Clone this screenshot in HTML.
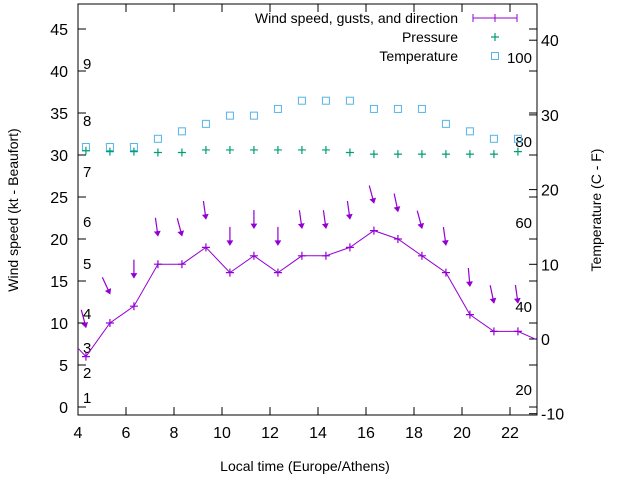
<!DOCTYPE html>
<html><head><meta charset="utf-8"><style>
html,body{margin:0;padding:0;background:#fff;}
svg{display:block;font-family:"Liberation Sans",sans-serif;}
</style></head><body>
<svg id="chart" width="640" height="480" viewBox="0 0 640 480"></svg>
<script>
const hours = [4.33,5.33,6.33,7.33,8.33,9.33,10.33,11.33,12.33,13.33,14.33,15.33,16.33,17.33,18.33,19.33,20.33,21.33,22.33];
const windSpeed = [6,10,12,17,17,19,16,18,16,18,18,19,21,20,18,16,11,9,9];
const gusts = [9.5,13.5,15.4,20.4,20.4,22.4,19.3,21.3,19.3,21.3,21.3,22.4,24.3,23.3,21.3,19.3,14.4,12.4,12.4];
const windDir = [-15,-25,0,-8,-15,-8,0,0,0,-8,-8,-8,-15,-12,-15,-8,-5,-12,-8];
const pressure = [30.5,30.4,30.4,30.3,30.3,30.6,30.6,30.6,30.6,30.6,30.6,30.3,30.1,30.1,30.1,30.1,30.1,30.1,30.4];
const temperature = [25.7,25.7,25.7,26.8,27.8,28.8,29.9,29.9,30.8,31.9,31.9,31.9,30.8,30.8,30.8,28.8,27.8,26.8,26.8];
const xTicks = [4,6,8,10,12,14,16,18,20,22];
const yTicks = [0,5,10,15,20,25,30,35,40,45];
const y2Ticks = [-10,0,10,20,30,40];
const beaufort = [[1,397],[2,372],[3,347],[4,313],[5,263],[6,221],[7,171],[8,120],[9,63]];
const fahr = [[100,57],[80,141],[60,222],[40,306],[20,389]];

const L=78,R=537,T=4,B=415;
const X=h=>L+(h-4)*24;
const Y=v=>407-v*8.4;
const Y2=v=>339-v*7.47;
const NS='http://www.w3.org/2000/svg';
const svg=document.getElementById('chart');
function mk(tag,attrs,parent){const e=document.createElementNS(NS,tag);for(const k in attrs)e.setAttribute(k,attrs[k]);(parent||svg).appendChild(e);return e;}
function txt(x,y,s,anchor,name,size){const t=mk('text',{x:x,y:y,'font-size':size||16,'text-anchor':anchor||'start',fill:'#000'});t.textContent=s;return t;}

const frame=mk('rect',{x:L,y:T,width:R-L,height:B-T,fill:'none',stroke:'#000','stroke-width':1});



yTicks.forEach(v=>{const y=Y(v);
 const tk=mk('path',{d:`M${L} ${y}h8M${R} ${y}h-8`,stroke:'#000'});
 
 
 txt(L-10,y+6,String(v),'end','y-tick-label');});
y2Ticks.forEach(v=>{const y=Y2(v);
 const tk=mk('path',{d:`M${R} ${y}h-8`,stroke:'#000'});
 
 
 txt(R+4,y+6,String(v),'start','y2-tick-label');});
xTicks.forEach(v=>{const x=X(v);
 const tk=mk('path',{d:`M${x} ${B}v-8M${x} ${T}v8`,stroke:'#000'});
 
 
 txt(x,B+23,String(v),'middle','x-tick-label');});
beaufort.forEach(b=>txt(83,b[1]+6,String(b[0]),'start','beaufort-label',15));
fahr.forEach(f=>txt(532,f[1]+6,String(f[0]),'end','fahrenheit-label',15));

temperature.forEach((v,i)=>{const r=mk('rect',{x:X(hours[i])-3.5,y:Y2(v)-3.5,width:7,height:7,fill:'none',stroke:'#56b4e9','stroke-width':1});
 
 });
pressure.forEach((v,i)=>{const x=X(hours[i]),y=Y(v);const p=mk('path',{d:`M${x-4} ${y}h8M${x} ${y-4}v8`,stroke:'#009e73','stroke-width':1.2});
 
 });
let d=`M${L} ${Y(7)}`;windSpeed.forEach((v,i)=>{d+=`L${X(hours[i])} ${Y(v)}`;});d+=`L${R} ${Y(8)}`;
const ln=mk('path',{d:d,fill:'none',stroke:'#9400d3','stroke-width':1});


windSpeed.forEach((v,i)=>{const x=X(hours[i]),y=Y(v);const p=mk('path',{d:`M${x-4} ${y}h8M${x} ${y-4}v8`,stroke:'#9400d3','stroke-width':1.2});
 
 });
gusts.forEach((v,i)=>{const x=X(hours[i]),y=Y(v);
 const g=mk('g',{transform:`translate(${x},${y}) rotate(${windDir[i]})`});
 
 
 mk('path',{d:'M0 -18V0',stroke:'#9400d3','stroke-width':1.2},g);
 mk('path',{d:'M-2.5 -4L0 0L2.5 -4Z',stroke:'#9400d3',fill:'#9400d3','stroke-width':1},g);});

txt(458,23,'Wind speed, gusts, and direction','end','legend-wind-label',14);
const lw=mk('path',{d:'M473 18h44M473 14v8M517 14v8M495 14v8',stroke:'#9400d3','stroke-width':1});


txt(458,42,'Pressure','end','legend-pressure-label',14);
const lp=mk('path',{d:'M491 37h8M495 33v8',stroke:'#009e73','stroke-width':1.2});


txt(458,61,'Temperature','end','legend-temperature-label',14);
const lt=mk('rect',{x:491.5,y:52.5,width:7,height:7,fill:'none',stroke:'#56b4e9'});



txt(305,471,'Local time (Europe/Athens)','middle','x-axis-title',14);
const yt=txt(0,0,'Wind speed (kt - Beaufort)','middle','y-axis-title',14);
yt.setAttribute('transform','translate(18,210) rotate(-90)');
const y2t=txt(0,0,'Temperature (C - F)','middle','y2-axis-title',14);
y2t.setAttribute('transform','translate(601,210) rotate(-90)');
</script>
</body></html>
